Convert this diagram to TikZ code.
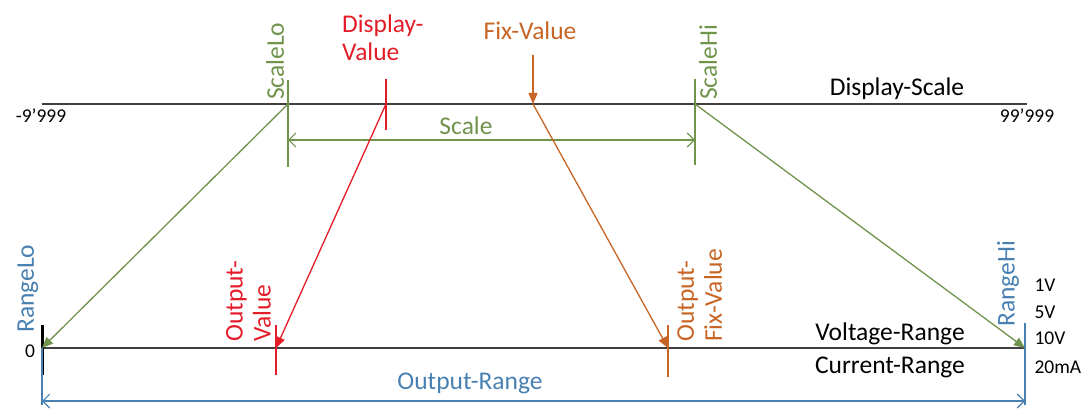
\documentclass[tikz,border=0pt]{standalone}
\usepackage{fontspec}
\setmainfont{Carlito}
\usetikzlibrary{arrows.meta,positioning}

\definecolor{axisgray}{RGB}{64,64,64}
\definecolor{scalegreen}{RGB}{112,148,76}
\definecolor{valred}{RGB}{228,28,40}
\definecolor{fixorange}{RGB}{200,100,36}
\definecolor{rangeblue}{RGB}{72,128,178}

\begin{document}
\begin{tikzpicture}[x=1pt,y=-1pt,font=\fontsize{25.5}{28}\selectfont,
   axis/.style={draw=axisgray,line width=2pt},
   tick/.style={line width=1.4pt},
   map/.style={line width=1.3pt,-{Triangle[length=11pt,width=9pt]}},
   dim/.style={line width=1.2pt,{Straight Barb[length=7pt,width=14pt]}-{Straight Barb[length=7pt,width=14pt]}},
   small/.style={font=\fontsize{19.5}{22}\selectfont},
   vert/.style={rotate=90,inner sep=1pt}]

   \useasboundingbox (0,0) rectangle (1085,409);

   % Display-Scale
   \coordinate (dsL) at (42,104);
   \coordinate (dsR) at (1027,104);
   \coordinate (sLo) at (288,104);
   \coordinate (sHi) at (695,104);
   \coordinate (dv)  at (386,104);
   \coordinate (fv)  at (533,104);
   \coordinate (fvtop) at (533,55);
   \coordinate (scA) at (288,140);
   \coordinate (scB) at (695,140);

   % Output-Range
   \coordinate (orL) at (42,348);
   \coordinate (orR) at (1025,348);
   \coordinate (ov)  at (276,348);
   \coordinate (ofv) at (668,348);
   \coordinate (orA) at (42,401);
   \coordinate (orB) at (1025,401);

   \draw[axis] (dsL) -- (dsR);
   \draw[axis] (orL) -- (orR);

   % ticks on the display scale
   \draw[tick,scalegreen] ([yshift=24pt]sLo) -- ([yshift=-63pt]sLo);
   \draw[tick,scalegreen] ([yshift=25pt]sHi) -- ([yshift=-61pt]sHi);
   \draw[tick,valred] ([yshift=25pt]dv) -- ([yshift=-26pt]dv);
   \draw[dim,scalegreen] (scA) -- (scB);
   \draw[map,fixorange] (fvtop) -- (fv);

   % ticks on the output range
   \draw[line width=3pt,black] ([yshift=23pt]orL) -- ([yshift=-27pt]orL);
   \draw[tick,rangeblue] (orL) -- ([yshift=-4pt]orA);
   \draw[tick,rangeblue] ([yshift=25pt]orR) -- ([yshift=-4pt]orB);
   \draw[tick,valred] ([yshift=23pt]ov) -- ([yshift=-27pt]ov);
   \draw[tick,fixorange] ([yshift=23pt]ofv) -- ([yshift=-29pt]ofv);
   \draw[dim,rangeblue] (orA) -- (orB);

   % mapping
   \draw[map,scalegreen] (sLo) -- (orL);
   \draw[map,scalegreen] (sHi) -- (orR);
   \draw[map,valred] (dv) -- (ov);
   \draw[map,fixorange] (fv) -- (ofv);

   % labels, top
   \node[small] (min) at (41,116) {-9’999};
   \node[small] (max) at (1027,116) {99’999};
   \node (dscale) at (897,89) {Display-Scale};
   \node[vert,anchor=west,scalegreen] (slo) at (275,101) {ScaleLo};
   \node[vert,anchor=west,scalegreen] (shi) at (708,101) {ScaleHi};
   \node[scalegreen] (scale) at (466,126) {Scale};
   \node[valred,align=left,anchor=west,inner sep=0pt] (dval) at (342,38) {Display-\\Value};
   \node[fixorange] (fix) at (530,31) {Fix-Value};

   % labels, bottom
   \node[vert,anchor=west,rangeblue] (rlo) at (28,334) {RangeLo};
   \node[small] (zero) at (30,351) {0};
   \node[vert,anchor=south west,align=left,valred] (oval) at (272,343) {Output-\\Value};
   \node[vert,anchor=north west,align=left,fixorange] (ofix) at (676,343) {Output-\\Fix-Value};
   \node[vert,anchor=west,rangeblue] (rhi) at (1008,328) {RangeHi};
   \node[small,anchor=west] (v1) at (1031,285) {1V};
   \node[small,anchor=west] (v5) at (1031,312) {5V};
   \node[small,anchor=west] (v10) at (1031,338) {10V};
   \node[small,anchor=west] (i20) at (1031,367) {20mA};
   \node (volt) at (890,334) {Voltage-Range};
   \node (curr) at (890,367) {Current-Range};
   \node[rangeblue] (orange) at (470,383) {Output-Range};

\end{tikzpicture}
\end{document}
